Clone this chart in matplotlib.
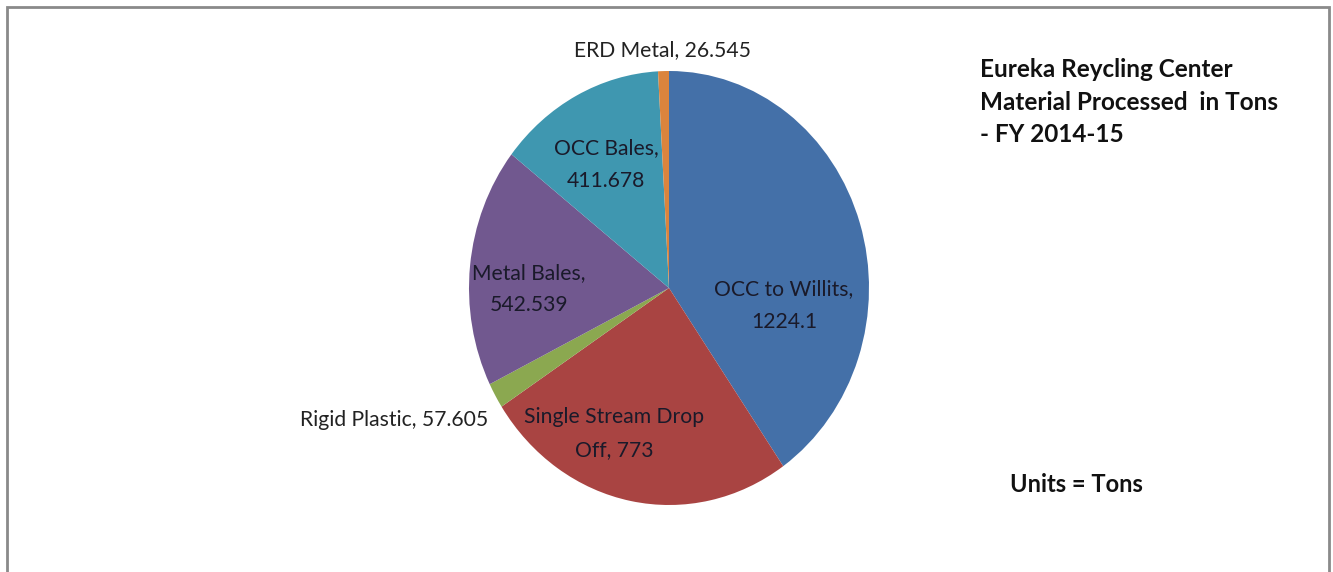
import matplotlib.pyplot as plt
from matplotlib.patches import Rectangle

# data (tons, FY 2014-15)
materials = ['OCC to Willits', 'Single Stream Drop\nOff', 'Rigid Plastic',
             'Metal Bales', 'OCC Bales', 'ERD Metal']
tons = [1224.1, 773, 57.605, 542.539, 411.678, 26.545]
value_text = ['1224.1', '773', '57.605', '542.539', '411.678', '26.545']
colors = ['#4470A8', '#A94442', '#8BA850', '#71588F', '#3F97B0', '#DB843D']

# where each label sits (data coords of the unit pie) and how it is aligned
label_pos = [(0.575, -0.08), (-0.275, -0.67), (-0.905, -0.61),
             (-0.70, -0.005), (-0.315, 0.57), (-0.03, 1.095)]
label_ha = ['center', 'center', 'right', 'center', 'center', 'center']
inside = [True, True, False, True, True, False]

plt.rcParams['font.family'] = ['Lato', 'DejaVu Sans']

fig = plt.figure(figsize=(13.33, 5.72), dpi=100)

# grey frame round the chart area
fig.patches.append(Rectangle((7 / 1333, -0.02), 1322 / 1333, 1.02 - 7 / 572,
                             transform=fig.transFigure, fill=False,
                             edgecolor='#8a8a8a', linewidth=2))

ax = fig.add_axes([469 / 1333, 67 / 572, 400 / 1333, 434 / 572])
wedges, _ = ax.pie(tons, colors=colors, startangle=90, counterclock=False,
                   wedgeprops=dict(linewidth=0))
ax.set_aspect('auto')
ax.set_xlim(-1, 1)
ax.set_ylim(-1, 1)
ax.axis('off')

for name, val, (x, y), ha, inn in zip(materials, value_text, label_pos, label_ha, inside):
    if inn:
        txt = name + ',\n' + val if '\n' not in name else name + ', ' + val
    else:
        txt = name + ', ' + val
    ax.text(x, y, txt, ha=ha, va='center', fontsize=15.2,
            color='#1a1a2a' if inn else '#222222', linespacing=1.8,
            clip_on=False)

fig.text(980 / 1333, 1 - 58 / 572,
         'Eureka Reycling Center\nMaterial Processed  in Tons\n- FY 2014-15',
         ha='left', va='top', fontsize=17.5, fontweight='bold', linespacing=1.5,
         color='#111111')
fig.text(1010 / 1333, 1 - 485 / 572, 'Units = Tons', ha='left', va='center',
         fontsize=17, fontweight='bold', color='#111111')

fig.savefig('out.png', dpi=100)
